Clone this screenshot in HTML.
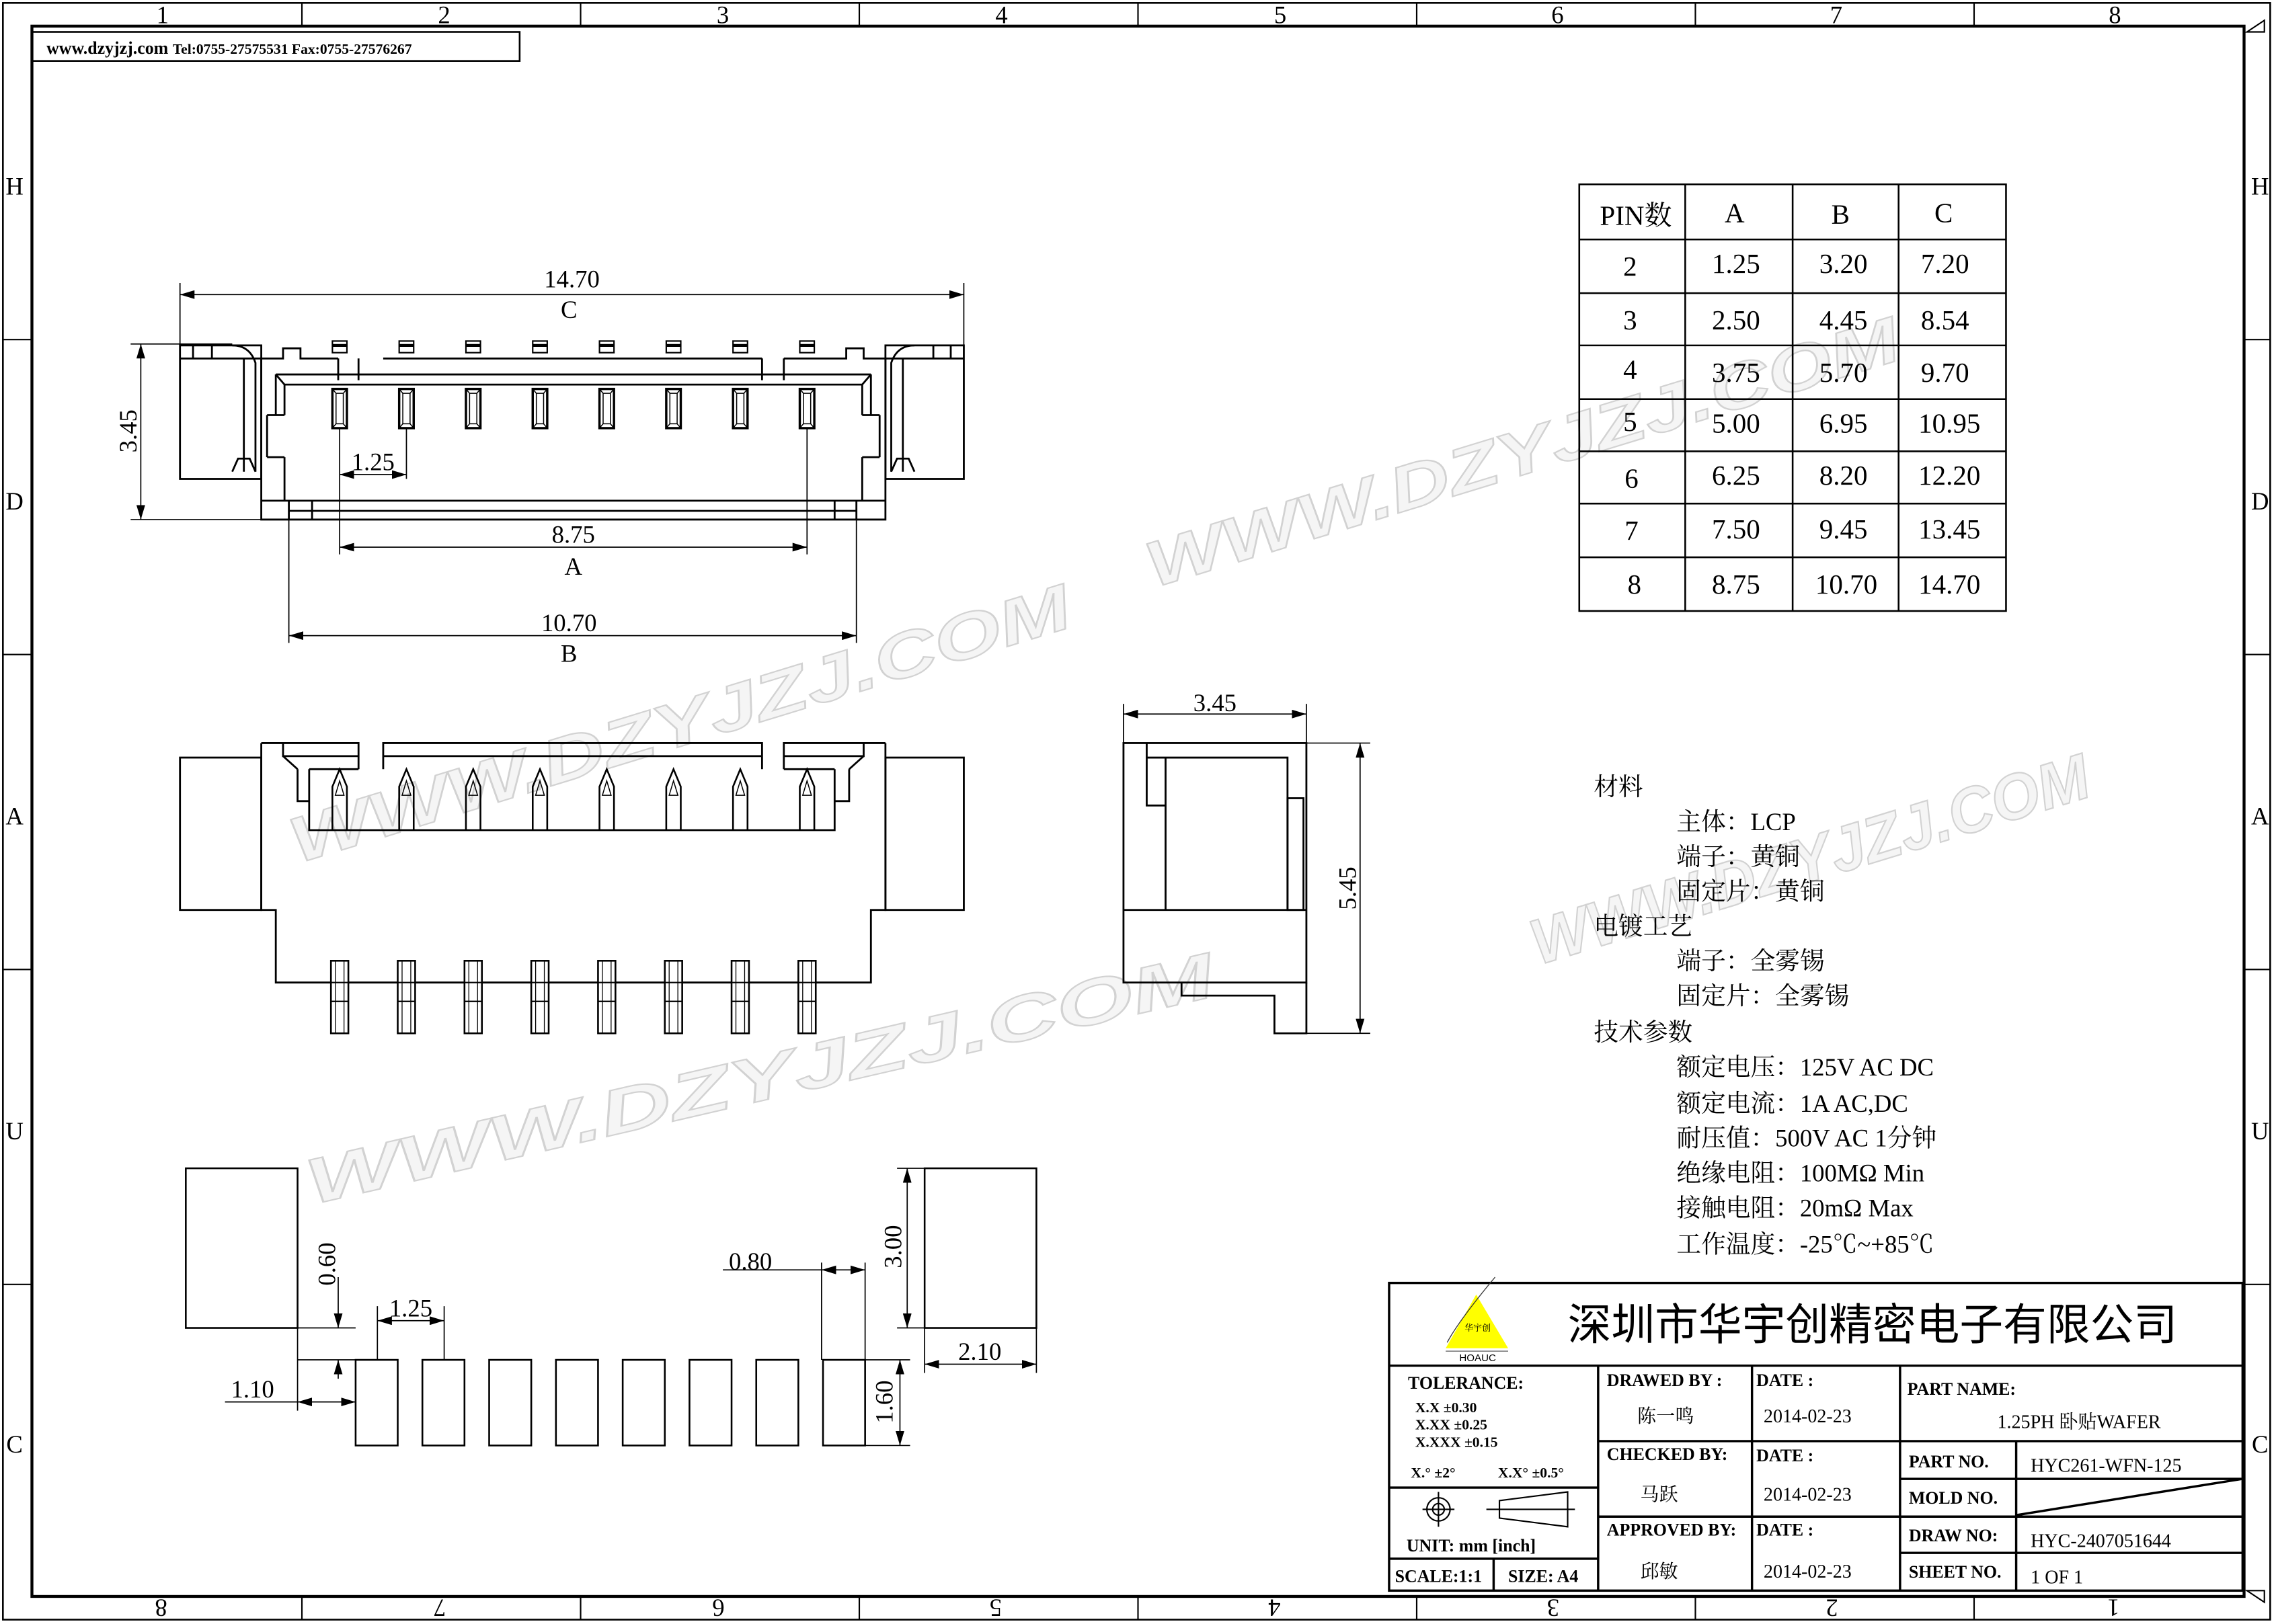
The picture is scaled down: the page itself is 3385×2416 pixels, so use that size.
<!DOCTYPE html>
<html><head><meta charset="utf-8"><style>
html,body{margin:0;padding:0;background:#fff}
svg{display:block}
text{font-family:"Liberation Serif","Noto Serif CJK SC",serif;fill:#000}
.s{font-family:"Liberation Sans","Noto Sans CJK SC",sans-serif}
text.wm{fill:#f5f5f5;stroke:#d2d2d2;stroke-width:1;font-family:"Liberation Sans",sans-serif;font-style:italic;font-weight:bold}
</style></head><body>
<svg width="3385" height="2416" viewBox="0 0 1568 1119" preserveAspectRatio="none" xmlns="http://www.w3.org/2000/svg">
<defs>
<g id="slot"><rect x="-5" y="268" width="10" height="27" fill="none" stroke="#000" stroke-width="1.6"/><rect x="-2.5" y="271" width="5" height="21" fill="none" stroke="#000" stroke-width="0.7"/><path d="M-5,268 L-2.5,271 M5,268 L2.5,271 M-5,295 L-2.5,292 M5,295 L2.5,292" stroke="#000" stroke-width="0.7"/></g>
<g id="tab"><rect x="-5" y="235" width="10" height="8" fill="#fff" stroke="#000" stroke-width="1"/><line x1="-5" y1="238" x2="5" y2="238" stroke="#000" stroke-width="2"/></g>
<g id="tri"><path d="M-5,572 L-5,542 L0,530 L5,542 L5,572" fill="none" stroke="#000" stroke-width="1.2"/><path d="M-3,548 L0,538 L3,548 Z" fill="none" stroke="#000" stroke-width="0.7"/></g>
<g id="foot"><rect x="-6" y="662" width="12" height="50" fill="#fff" stroke="#000" stroke-width="1.2"/><line x1="-6" y1="677" x2="6" y2="677" stroke="#000"/><line x1="-6" y1="690" x2="6" y2="690" stroke="#000"/><line x1="-3" y1="662" x2="-3" y2="712" stroke="#000" stroke-width="0.6"/><line x1="3" y1="662" x2="3" y2="712" stroke="#000" stroke-width="0.6"/></g>
<g id="pad"><rect x="0" y="937" width="29" height="59" fill="none" stroke="#000" stroke-width="1.2"/></g>
<marker id="ar" viewBox="0 0 10 6" refX="10" refY="3" markerWidth="10" markerHeight="6" orient="auto-start-reverse" markerUnits="userSpaceOnUse"><path d="M0,0 L10,3 L0,6 Z" fill="#000"/></marker>
</defs>

<!-- frame -->
<rect x="2" y="2" width="1562" height="1114" fill="none" stroke="#000" stroke-width="1.2"/>
<rect x="22" y="18" width="1524" height="1082" fill="none" stroke="#000" stroke-width="2"/>
<g stroke="#000" stroke-width="1">
<line x1="208" y1="2" x2="208" y2="18"/><line x1="400" y1="2" x2="400" y2="18"/><line x1="592" y1="2" x2="592" y2="18"/><line x1="784" y1="2" x2="784" y2="18"/><line x1="976" y1="2" x2="976" y2="18"/><line x1="1168" y1="2" x2="1168" y2="18"/><line x1="1360" y1="2" x2="1360" y2="18"/>
<line x1="208" y1="1100" x2="208" y2="1116"/><line x1="400" y1="1100" x2="400" y2="1116"/><line x1="592" y1="1100" x2="592" y2="1116"/><line x1="784" y1="1100" x2="784" y2="1116"/><line x1="976" y1="1100" x2="976" y2="1116"/><line x1="1168" y1="1100" x2="1168" y2="1116"/><line x1="1360" y1="1100" x2="1360" y2="1116"/>
<line x1="2" y1="234" x2="22" y2="234"/><line x1="2" y1="451" x2="22" y2="451"/><line x1="2" y1="668" x2="22" y2="668"/><line x1="2" y1="885" x2="22" y2="885"/>
<line x1="1546" y1="234" x2="1564" y2="234"/><line x1="1546" y1="451" x2="1564" y2="451"/><line x1="1546" y1="668" x2="1564" y2="668"/><line x1="1546" y1="885" x2="1564" y2="885"/>
</g>
<path d="M1548,22 L1560,14 L1560,22 Z M1548,1096 L1560,1104 L1560,1096 Z" fill="none" stroke="#000"/>
<g font-size="17" text-anchor="middle" class="s" style="font-family:'Liberation Sans',sans-serif">
<text x="112" y="16">1</text><text x="306" y="16">2</text><text x="498" y="16">3</text><text x="690" y="16">4</text><text x="882" y="16">5</text><text x="1073" y="16">6</text><text x="1265" y="16">7</text><text x="1457" y="16">8</text>
<g transform="rotate(180 784 1108)"><text x="112" y="1114">1</text><text x="306" y="1114">2</text><text x="498" y="1114">3</text><text x="690" y="1114">4</text><text x="882" y="1114">5</text><text x="1073" y="1114">6</text><text x="1265" y="1114">7</text><text x="1457" y="1114">8</text></g>
<text x="10" y="134">H</text><text x="10" y="351">D</text><text x="10" y="568">A</text><text x="10" y="785">U</text><text x="10" y="1001">C</text>
<text x="1557" y="134">H</text><text x="1557" y="351">D</text><text x="1557" y="568">A</text><text x="1557" y="785">U</text><text x="1557" y="1001">C</text>
</g>
<rect x="22" y="22" width="336" height="20" fill="none" stroke="#000" stroke-width="1.2"/>
<text x="32" y="37" font-size="12" font-weight="bold">www.dzyjzj.com  <tspan font-size="10">Tel:0755-27575531  Fax:0755-27576267</tspan></text>

<!-- watermarks -->
<g font-size="44">
<text class="wm" x="205" y="595" textLength="560" lengthAdjust="spacingAndGlyphs" transform="rotate(-17 205 595)">WWW.DZYJZJ.COM</text>
<text class="wm" x="215" y="830" textLength="640" lengthAdjust="spacingAndGlyphs" transform="rotate(-13 215 830)">WWW.DZYJZJ.COM</text>
<text class="wm" x="795" y="405" textLength="540" lengthAdjust="spacingAndGlyphs" transform="rotate(-17 795 405)">WWW.DZYJZJ.COM</text>
<text class="wm" x="1060" y="665" textLength="400" lengthAdjust="spacingAndGlyphs" transform="rotate(-17 1060 665)">WWW.DZYJZJ.COM</text>
</g>

<!-- TOP VIEW -->
<g fill="none" stroke="#000" stroke-width="1.3">
<rect x="124" y="238" width="56" height="92"/>
<rect x="610" y="238" width="54" height="92"/>
<path d="M124,247 H180 M610,247 H664"/>
<path d="M133,238 V247 M146,238 V247 M655,238 V247 M643,238 V247"/>
<path d="M160,238 Q172,238 176,250 V325 M168,247 V325 M630,238 Q618,238 614,250 V325 M622,247 V325"/>
<path d="M160,325 L164,316 L172,316 L176,325 M614,325 L618,316 L626,316 L630,325"/>
<path d="M180,247 H195 V240 H207 V247 H233 M264,247 H525 M540,247 H583 V240 H595 V247 H610"/>
<path d="M233,247 V262 M247,247 V262 M525,247 V262 M540,247 V262"/>
<path d="M180,247 V358 H610 V247"/>
<path d="M190,258 H600 M190,258 L196,265 H594 L600,258 M190,258 V286 M600,258 V286"/>
<path d="M196,265 V286 M594,265 V286 M184,286 H196 M594,286 H606 M184,286 V315 M606,286 V315 M184,315 H196 M594,315 H606 M196,315 V345 M594,315 V345"/>
<path d="M180,345 H610 M199,352 H590 M215,345 V358 M575,345 V358 M199,345 V358 M590,345 V358"/>
</g>
<use href="#tab" x="234"/><use href="#tab" x="280"/><use href="#tab" x="326"/><use href="#tab" x="372"/><use href="#tab" x="418"/><use href="#tab" x="464"/><use href="#tab" x="510"/><use href="#tab" x="556"/>
<use href="#slot" x="234"/><use href="#slot" x="280"/><use href="#slot" x="326"/><use href="#slot" x="372"/><use href="#slot" x="418"/><use href="#slot" x="464"/><use href="#slot" x="510"/><use href="#slot" x="556"/>
<g stroke="#000" stroke-width="0.8" fill="none">
<line x1="124" y1="195" x2="124" y2="238"/><line x1="664" y1="195" x2="664" y2="238"/>
<line x1="124" y1="203" x2="664" y2="203" marker-start="url(#ar)" marker-end="url(#ar)"/>
<line x1="90" y1="237" x2="160" y2="237"/><line x1="90" y1="358" x2="180" y2="358"/>
<line x1="97" y1="237" x2="97" y2="358" marker-start="url(#ar)" marker-end="url(#ar)"/>
<line x1="234" y1="295" x2="234" y2="382"/><line x1="280" y1="295" x2="280" y2="330"/><line x1="556" y1="295" x2="556" y2="382"/>
<line x1="234" y1="327" x2="280" y2="327" marker-start="url(#ar)" marker-end="url(#ar)"/>
<line x1="234" y1="377" x2="556" y2="377" marker-start="url(#ar)" marker-end="url(#ar)"/>
<line x1="199" y1="358" x2="199" y2="443"/><line x1="590" y1="358" x2="590" y2="443"/>
<line x1="199" y1="438" x2="590" y2="438" marker-start="url(#ar)" marker-end="url(#ar)"/>
</g>
<g font-size="17" text-anchor="middle">
<text x="394" y="198">14.70</text><text x="392" y="219">C</text>
<text x="94" y="297" transform="rotate(-90 94 297)">3.45</text>
<text x="257" y="324">1.25</text>
<text x="395" y="374">8.75</text><text x="395" y="396">A</text>
<text x="392" y="435">10.70</text><text x="392" y="456">B</text>
</g>

<!-- FRONT VIEW -->
<g fill="none" stroke="#000" stroke-width="1.3">
<rect x="124" y="522" width="56" height="105"/>
<rect x="610" y="522" width="54" height="105"/>
<path d="M180,512 H247 V530 M264,530 V512 H525 V530 M540,530 V512 H610"/>
<path d="M180,512 V627 H190 V677 H600 V627 H610 V512"/>
<path d="M195,512 V521 H247 M264,521 H525 M540,521 H595 V512"/>
<path d="M195,521 L205,530 M595,521 L585,530"/>
<path d="M213,530 V572 H575 V530 M213,530 H247 M540,530 H575"/>
<path d="M205,530 V552 H213 M585,530 V552 H575"/>
</g>
<use href="#tri" x="234"/><use href="#tri" x="280"/><use href="#tri" x="326"/><use href="#tri" x="372"/><use href="#tri" x="418"/><use href="#tri" x="464"/><use href="#tri" x="510"/><use href="#tri" x="556"/>
<use href="#foot" x="234"/><use href="#foot" x="280"/><use href="#foot" x="326"/><use href="#foot" x="372"/><use href="#foot" x="418"/><use href="#foot" x="464"/><use href="#foot" x="510"/><use href="#foot" x="556"/>

<!-- SIDE VIEW -->
<g fill="none" stroke="#000" stroke-width="1.3">
<rect x="774" y="512" width="126" height="165"/>
<path d="M774,627 H900"/>
<path d="M790,512 V522 M790,522 H887 V627 M803,522 V627 M790,522 V555 H803"/>
<rect x="887" y="550" width="11" height="77"/>
<path d="M814,677 V686 H878 V712 H900 V677"/>
</g>
<g stroke="#000" stroke-width="0.8" fill="none">
<line x1="774" y1="485" x2="774" y2="512"/><line x1="900" y1="485" x2="900" y2="512"/>
<line x1="774" y1="492" x2="900" y2="492" marker-start="url(#ar)" marker-end="url(#ar)"/>
<line x1="900" y1="512" x2="944" y2="512"/><line x1="900" y1="712" x2="944" y2="712"/>
<line x1="937" y1="512" x2="937" y2="712" marker-start="url(#ar)" marker-end="url(#ar)"/>
</g>
<g font-size="17" text-anchor="middle">
<text x="837" y="490">3.45</text>
<text x="934" y="612" transform="rotate(-90 934 612)">5.45</text>
</g>

<!-- PCB LAYOUT -->
<g fill="none" stroke="#000" stroke-width="1.2">
<rect x="128" y="805" width="77" height="110"/>
<rect x="637" y="805" width="77" height="110"/>
</g>
<use href="#pad" x="245"/><use href="#pad" x="291"/><use href="#pad" x="337"/><use href="#pad" x="383"/><use href="#pad" x="429"/><use href="#pad" x="475"/><use href="#pad" x="521"/><use href="#pad" x="567"/>
<g stroke="#000" stroke-width="0.8" fill="none">
<line x1="205" y1="915" x2="245" y2="915"/><line x1="205" y1="937" x2="245" y2="937"/>
<line x1="233" y1="880" x2="233" y2="915" marker-end="url(#ar)"/><line x1="233" y1="950" x2="233" y2="937" marker-end="url(#ar)"/>
<line x1="260" y1="900" x2="260" y2="937"/><line x1="306" y1="900" x2="306" y2="937"/>
<line x1="260" y1="910" x2="306" y2="910" marker-start="url(#ar)" marker-end="url(#ar)"/>
<line x1="205" y1="915" x2="205" y2="972"/>
<line x1="155" y1="966" x2="205" y2="966"/><line x1="205" y1="966" x2="245" y2="966" marker-start="url(#ar)" marker-end="url(#ar)"/>
<line x1="566" y1="870" x2="566" y2="937"/><line x1="596" y1="870" x2="596" y2="937"/>
<line x1="498" y1="875" x2="566" y2="875"/><line x1="566" y1="875" x2="596" y2="875" marker-start="url(#ar)" marker-end="url(#ar)"/>
<line x1="618" y1="805" x2="637" y2="805"/><line x1="618" y1="915" x2="637" y2="915"/>
<line x1="625" y1="805" x2="625" y2="915" marker-start="url(#ar)" marker-end="url(#ar)"/>
<line x1="637" y1="915" x2="637" y2="946"/><line x1="714" y1="915" x2="714" y2="946"/>
<line x1="637" y1="940" x2="714" y2="940" marker-start="url(#ar)" marker-end="url(#ar)"/>
<line x1="596" y1="937" x2="627" y2="937"/><line x1="596" y1="996" x2="627" y2="996"/>
<line x1="620" y1="937" x2="620" y2="996" marker-start="url(#ar)" marker-end="url(#ar)"/>
</g>
<g font-size="17" text-anchor="middle">
<text x="231" y="871" transform="rotate(-90 231 871)">0.60</text>
<text x="283" y="907">1.25</text>
<text x="174" y="963">1.10</text>
<text x="517" y="875">0.80</text>
<text x="621" y="859" transform="rotate(-90 621 859)">3.00</text>
<text x="675" y="937">2.10</text>
<text x="615" y="966" transform="rotate(-90 615 966)">1.60</text>
</g>

<!-- PIN TABLE -->
<g fill="none" stroke="#000" stroke-width="1.2">
<rect x="1088" y="127" width="294" height="294"/>
<path d="M1161,127 V421 M1235,127 V421 M1308,127 V421"/>
<path d="M1088,165 H1382 M1088,202 H1382 M1088,238 H1382 M1088,275 H1382 M1088,311 H1382 M1088,347 H1382 M1088,384 H1382"/>
</g>
<g font-size="19" text-anchor="middle">
<text x="1127" y="155">PIN数</text><text x="1195" y="153">A</text><text x="1268" y="154">B</text><text x="1339" y="153">C</text>
<text x="1123" y="190">2</text><text x="1196" y="188">1.25</text><text x="1270" y="188">3.20</text><text x="1340" y="188">7.20</text>
<text x="1123" y="227">3</text><text x="1196" y="227">2.50</text><text x="1270" y="227">4.45</text><text x="1340" y="227">8.54</text>
<text x="1123" y="261">4</text><text x="1196" y="263">3.75</text><text x="1270" y="263">5.70</text><text x="1340" y="263">9.70</text>
<text x="1123" y="297">5</text><text x="1196" y="298">5.00</text><text x="1270" y="298">6.95</text><text x="1343" y="298">10.95</text>
<text x="1124" y="336">6</text><text x="1196" y="334">6.25</text><text x="1270" y="334">8.20</text><text x="1343" y="334">12.20</text>
<text x="1124" y="372">7</text><text x="1196" y="371">7.50</text><text x="1270" y="371">9.45</text><text x="1343" y="371">13.45</text>
<text x="1126" y="409">8</text><text x="1196" y="409">8.75</text><text x="1272" y="409">10.70</text><text x="1343" y="409">14.70</text>
</g>

<!-- MATERIAL NOTES -->
<g font-size="17">
<text x="1098" y="548">材料</text>
<text x="1155" y="572">主体：LCP</text>
<text x="1155" y="596">端子：黄铜</text>
<text x="1155" y="620">固定片：黄铜</text>
<text x="1098" y="644">电镀工艺</text>
<text x="1155" y="668">端子：全雾锡</text>
<text x="1155" y="692">固定片：全雾锡</text>
<text x="1098" y="717">技术参数</text>
<text x="1155" y="741">额定电压：125V AC DC</text>
<text x="1155" y="766">额定电流：1A AC,DC</text>
<text x="1155" y="790">耐压值：500V AC 1分钟</text>
<text x="1155" y="814">绝缘电阻：100MΩ   Min</text>
<text x="1155" y="838">接触电阻：20mΩ    Max</text>
<text x="1155" y="863">工作温度：-25℃~+85℃</text>
</g>

<!-- TITLE BLOCK -->
<g fill="none" stroke="#000" stroke-width="1.6">
<rect x="957" y="884" width="588" height="212"/>
<path d="M957,941 H1545 M1101,941 V1096 M1207,941 V1096 M1309,941 V1096 M1389,993 V1096"/>
<path d="M1101,993 H1545 M1101,1045 H1545 M1309,1019 H1545 M1309,1070 H1545"/>
<path d="M957,1025 H1101 M957,1074 H1101 M1029,1074 V1096"/>
<path d="M1389,1044 L1545,1019"/>
</g>
<path d="M1017,892 L996,929 L1039,929 Z" fill="#ffff00"/>
<path d="M997,925 Q1005,910 1030,880" fill="none" stroke="#333" stroke-width="0.6"/>
<text x="1018" y="917" font-size="6" text-anchor="middle" fill="#333">华宇创</text>
<line x1="996" y1="931" x2="1039" y2="931" stroke="#888" stroke-width="0.8"/>
<text x="1018" y="938" font-size="7" text-anchor="middle" class="s">HOAUC</text>
<text x="1290" y="923" font-size="30" text-anchor="middle" class="s" style="font-family:'Liberation Sans','Noto Sans CJK SC',sans-serif">深圳市华宇创精密电子有限公司</text>
<g class="s" style="font-family:'Liberation Sans',sans-serif" font-size="12" font-weight="bold">
<text x="970" y="957">TOLERANCE:</text>
<text x="975" y="973" font-size="10">X.X     ±0.30</text>
<text x="975" y="985" font-size="10">X.XX    ±0.25</text>
<text x="975" y="997" font-size="10">X.XXX ±0.15</text>
<text x="972" y="1018" font-size="10">X.° ±2°</text>
<text x="1032" y="1018" font-size="10">X.X° ±0.5°</text>
<text x="969" y="1069">UNIT:  mm  [inch]</text>
<text x="961" y="1090">SCALE:1:1</text>
<text x="1039" y="1090">SIZE:  A4</text>
<text x="1107" y="955">DRAWED  BY  :</text>
<text x="1210" y="955">DATE  :</text>
<text x="1107" y="1006">CHECKED  BY:</text>
<text x="1210" y="1007">DATE  :</text>
<text x="1107" y="1058">APPROVED  BY:</text>
<text x="1210" y="1058">DATE  :</text>
<text x="1314" y="961">PART  NAME:</text>
<text x="1315" y="1011">PART  NO.</text>
<text x="1315" y="1036">MOLD  NO.</text>
<text x="1315" y="1062">DRAW  NO:</text>
<text x="1315" y="1087">SHEET  NO.</text>
</g>
<g fill="none" stroke="#000" stroke-width="1">
<circle cx="991" cy="1040" r="8"/><circle cx="991" cy="1040" r="4"/>
<path d="M980,1040 H1002 M991,1028 V1052"/>
<path d="M1024,1040 H1085 M1033,1034 L1080,1028 V1052 L1033,1046 Z"/>
</g>
<g font-size="13">
<text x="1128" y="980">陈一鸣</text><text x="1215" y="980">2014-02-23</text>
<text x="1130" y="1034">马跃</text><text x="1215" y="1034">2014-02-23</text>
<text x="1130" y="1087">邱敏</text><text x="1215" y="1087">2014-02-23</text>
<text x="1376" y="984">1.25PH 卧贴WAFER</text>
<text x="1399" y="1014">HYC261-WFN-125</text>
<text x="1399" y="1066">HYC-2407051644</text>
<text x="1399" y="1091">1 OF 1</text>
</g>
</svg>
</body></html>
